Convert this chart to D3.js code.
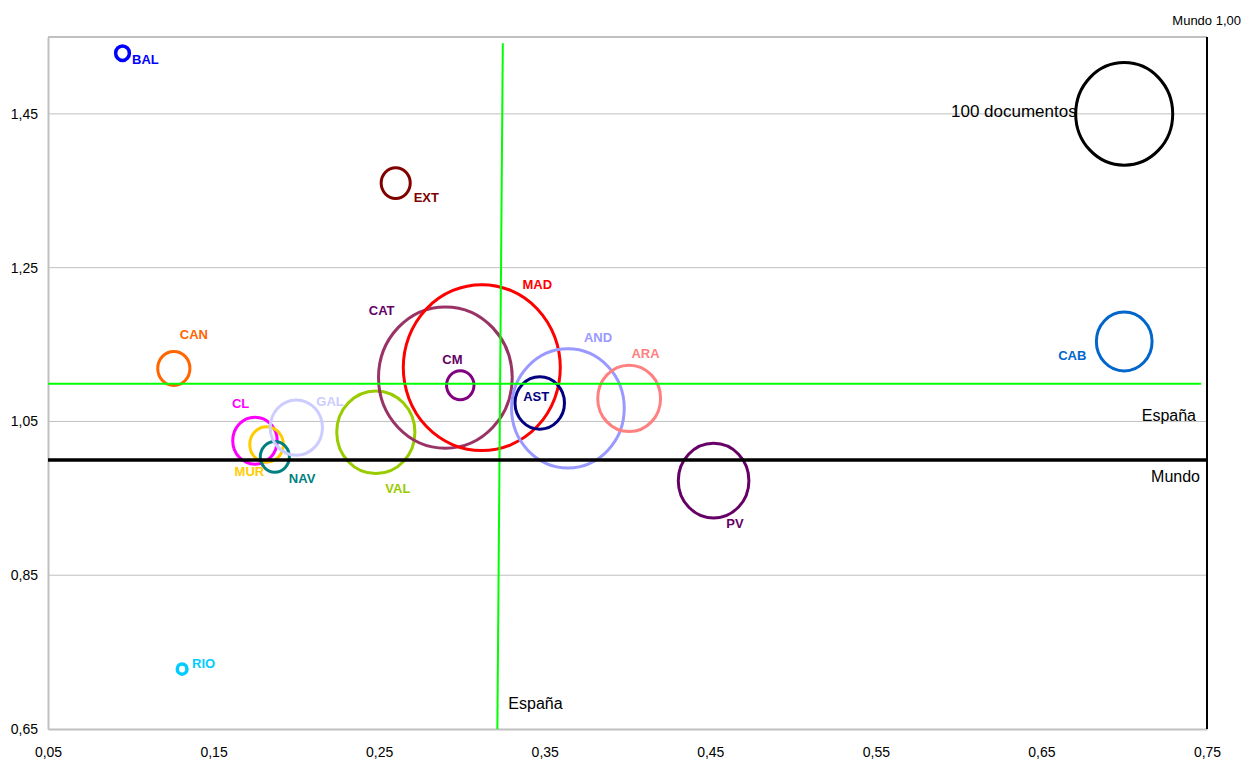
<!DOCTYPE html>
<html>
<head>
<meta charset="utf-8">
<script src="https://cdn.jsdelivr.net/npm/d3@7"></script>
<style>
  body { margin: 0; background: #fff; }
  svg { display: block; font-family: "Liberation Sans", Arial, sans-serif; }
</style>
</head>
<body>
<div id="chart"></div>
<script>
// Regions (bubble labels)
const regions = ["BAL", "EXT", "CAN", "CL", "MUR", "NAV", "GAL", "VAL", "CAT", "MAD", "CM", "AND", "AST", "ARA", "PV", "CAB", "RIO"];
// x value of each region
const xValues = [0.095, 0.260, 0.126, 0.175, 0.182, 0.187, 0.200, 0.248, 0.290, 0.312, 0.299, 0.364, 0.347, 0.401, 0.452, 0.700, 0.131];
// y value of each region
const yValues = [1.529, 1.360, 1.119, 1.025, 1.020, 1.004, 1.042, 1.036, 1.107, 1.120, 1.097, 1.067, 1.074, 1.080, 0.973, 1.154, 0.728];
// number of documents (bubble size)
const documents = [2, 9, 11, 21, 12, 9, 29, 65, 190, 262, 8, 135, 26, 42, 53, 33, 1];

// Reference bubble
const refBubble = { label: "100 documentos", x: 0.700, y: 1.450, docs: 100 };

// Reference lines
const mundoY = 1.00;
const espanaY = 1.099;
const espanaX = [0.3247, 0.3214]; // top, bottom (line is slightly slanted)

const xTicks = [0.05, 0.15, 0.25, 0.35, 0.45, 0.55, 0.65, 0.75];
const yTicks = [0.65, 0.85, 1.05, 1.25, 1.45];

// Styles
const colors = {
  BAL: "#0000ff", EXT: "#800000", CAN: "#ff6600", CL: "#ff00ff", MUR: "#ffcc00",
  NAV: "#008080", GAL: "#ccccff", VAL: "#99cc00", CAT: "#993366", MAD: "#ff0000",
  CM: "#800080", AND: "#9999ff", AST: "#000080", ARA: "#ff8080", PV: "#660066",
  CAB: "#0066cc", RIO: "#00ccff"
};
const labelColors = { CAT: "#660066", CM: "#660066" };
// label offsets from bubble centre, in px
const labelOffset = {
  BAL: [9.5, 11], EXT: [18, 19], CAN: [6, -29.5], CL: [-23, -32.5], MUR: [-32, 31.4],
  NAV: [14, 26], GAL: [20, -21.6], VAL: [9.5, 61], CAT: [-76.6, -62.5], MAD: [40.7, -78.8],
  CM: [-18, -21.4], AND: [16, -66.6], AST: [-16.5, -2.3], ARA: [2.3, -40.6], PV: [12.7, 47],
  CAB: [-66, 18.3], RIO: [10, -1]
};

const width = 1244;
const height = 760;
const margin = { top: 37, right: 37, bottom: 31, left: 48 };

const locale = d3.formatLocale({ decimal: ",", thousands: ".", grouping: [3], currency: ["", "€"] });
const fmt = locale.format(".2f");

const x = d3.scaleLinear().domain([0.05, 0.75]).range([margin.left, width - margin.right]);
const y = d3.scaleLinear().domain([0.65, 1.55]).range([height - margin.bottom, margin.top]);
const r = d3.scaleSqrt().domain([0, 100]).range([0, 48.5]);
const aspect = 1.057; // bubbles are drawn slightly taller than wide

const svg = d3.select("#chart").append("svg")
  .attr("width", width)
  .attr("height", height)
  .attr("viewBox", [0, 0, width, height]);

// Gridlines
svg.append("g")
  .selectAll("line")
  .data(yTicks.slice(1))
  .join("line")
  .attr("x1", x(0.05)).attr("x2", x(0.75))
  .attr("y1", d => y(d)).attr("y2", d => y(d))
  .attr("stroke", "#c0c0c0")
  .attr("stroke-width", 1);

// Axes
const xAxis = svg.append("g")
  .attr("transform", `translate(0,${y(0.65)})`)
  .call(d3.axisBottom(x).tickValues(xTicks).tickFormat(fmt).tickSize(0).tickPadding(18));
const yAxis = svg.append("g")
  .attr("transform", `translate(${x(0.05)},0)`)
  .call(d3.axisLeft(y).tickValues(yTicks).tickFormat(fmt).tickSize(0).tickPadding(10));
[xAxis, yAxis].forEach(g => {
  g.select(".domain").attr("stroke", "#c0c0c0").attr("stroke-width", 2);
  g.selectAll("text").attr("font-size", 14).attr("fill", "#000")
    .attr("font-family", "'Liberation Sans', Arial, sans-serif");
});

// Top border
svg.append("line")
  .attr("x1", x(0.05)).attr("x2", x(0.75))
  .attr("y1", y(1.55)).attr("y2", y(1.55))
  .attr("stroke", "#c0c0c0").attr("stroke-width", 2);

// Bubbles
const bubbles = regions.map((name, i) => ({ name, x: xValues[i], y: yValues[i], docs: documents[i] }));

svg.append("g")
  .selectAll("ellipse")
  .data(bubbles)
  .join("ellipse")
  .attr("cx", d => x(d.x))
  .attr("cy", d => y(d.y))
  .attr("rx", d => r(d.docs))
  .attr("ry", d => r(d.docs) * aspect)
  .attr("fill", "none")
  .attr("stroke", d => colors[d.name])
  .attr("stroke-width", d => d.docs < 3 ? 3.5 : 3);

// Reference bubble
svg.append("ellipse")
  .attr("cx", x(refBubble.x))
  .attr("cy", y(refBubble.y))
  .attr("rx", r(refBubble.docs))
  .attr("ry", r(refBubble.docs) * aspect)
  .attr("fill", "none")
  .attr("stroke", "#000")
  .attr("stroke-width", 3);
svg.append("text")
  .attr("x", x(refBubble.x) - r(refBubble.docs) + 1)
  .attr("y", y(refBubble.y) + 3)
  .attr("text-anchor", "end")
  .attr("font-size", 17)
  .text(refBubble.label);

// Reference lines: España (green) and Mundo (black)
svg.append("line")
  .attr("x1", x(0.05)).attr("x2", x(0.7465))
  .attr("y1", y(espanaY)).attr("y2", y(espanaY))
  .attr("stroke", "#00ff00").attr("stroke-width", 2);
svg.append("line")
  .attr("x1", x(espanaX[0])).attr("x2", x(espanaX[1]))
  .attr("y1", y(1.542)).attr("y2", y(0.65))
  .attr("stroke", "#00ff00").attr("stroke-width", 2);
svg.append("line")
  .attr("x1", x(0.05)).attr("x2", x(0.75))
  .attr("y1", y(mundoY)).attr("y2", y(mundoY))
  .attr("stroke", "#000").attr("stroke-width", 3.5);
// Right border (Mundo 1,00)
svg.append("line")
  .attr("x1", x(0.75)).attr("x2", x(0.75))
  .attr("y1", y(1.55)).attr("y2", y(0.65))
  .attr("stroke", "#000").attr("stroke-width", 2);

// Bubble labels
svg.append("g")
  .selectAll("text")
  .data(bubbles)
  .join("text")
  .attr("x", d => x(d.x) + labelOffset[d.name][0])
  .attr("y", d => y(d.y) + labelOffset[d.name][1])
  .attr("font-size", 13)
  .attr("font-weight", "bold")
  .attr("fill", d => labelColors[d.name] || colors[d.name])
  .text(d => d.name);

// Reference line labels
svg.append("text")
  .attr("x", x(0.75) - 11).attr("y", y(espanaY) + 37)
  .attr("text-anchor", "end").attr("font-size", 16)
  .text("España");
svg.append("text")
  .attr("x", x(0.75) - 7).attr("y", y(mundoY) + 22)
  .attr("text-anchor", "end").attr("font-size", 16)
  .text("Mundo");
svg.append("text")
  .attr("x", x(espanaX[1]) + 11).attr("y", y(0.65) - 20)
  .attr("font-size", 16)
  .text("España");
svg.append("text")
  .attr("x", 1241).attr("y", 25)
  .attr("text-anchor", "end").attr("font-size", 13)
  .text("Mundo " + fmt(mundoY));
</script>
</body>
</html>
